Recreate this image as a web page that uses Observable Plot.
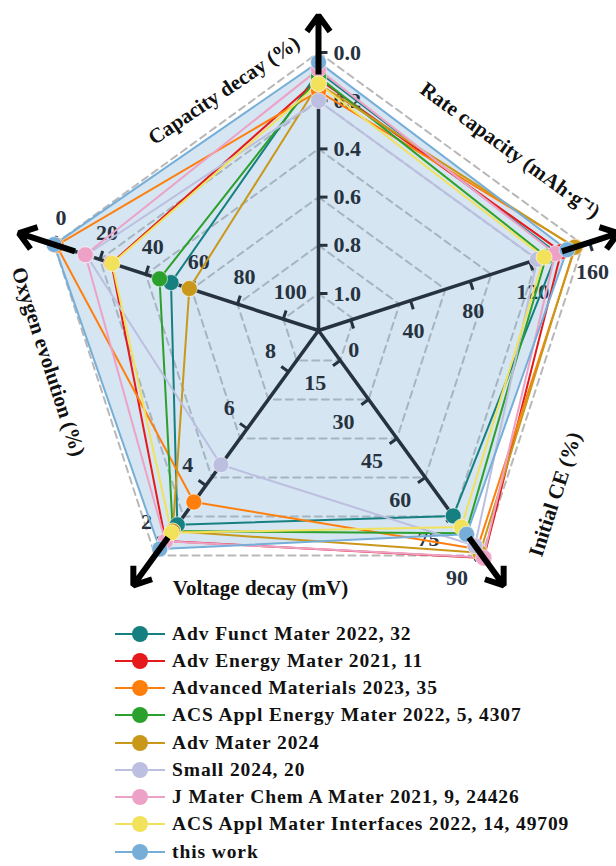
<!DOCTYPE html>
<html><head><meta charset="utf-8">
<script src="https://cdn.jsdelivr.net/npm/d3@7"></script>
<script src="https://cdn.jsdelivr.net/npm/@observablehq/plot@0.6"></script>
<style>
body{margin:0;background:#fff;font-family:"Liberation Serif","Times New Roman",serif;}
#legend{padding-top:5px;}
.row{display:flex;align-items:center;height:27.25px;margin-left:114px;font-weight:bold;font-size:19.5px;letter-spacing:0.9px;color:#111;white-space:nowrap;}
.row svg{margin-right:6px;flex:none}
</style></head><body><div id="chart"></div><div id="legend"></div>
<script>
// ---- data ----
const series = ["Adv Funct Mater 2022, 32","Adv Energy Mater 2021, 11","Advanced Materials 2023, 35","ACS Appl Energy Mater 2022, 5, 4307","Adv Mater 2024","Small 2024, 20","J Mater Chem A Mater 2021, 9, 24426","ACS Appl Mater Interfaces 2022, 14, 49709","this work"];
const colors = ["#15807f","#e41a1c","#ff7f0e","#2ca02c","#c9981a","#bcbfe0","#eda1c6","#f2e15b","#76aed8"];
const capacityDecay   = [0.08, 0.11, 0.16, 0.10, 0.13, 0.20, 0.07, 0.13, 0.04];
const rateCapacity    = [138, 141, 150.5, 131, 150, 125, 137, 129.5, 145];
const initialCE       = [74.8, 91, 87.5, 81.5, 89, 86.3, 90.8, 79.1, 81.9];
const voltageDecay    = [2.62, 2.05, 3.42, 2.4, 2.4, 4.73, 2.04, 2.34, 1.77];
const oxygenEvolution = [51, 25, 1, 46, 59, 14, 13.6, 25.3, 0];
const axisNames = ["Capacity decay (%)","Rate capacity (mAh·g⁻¹)","Initial CE (%)","Voltage decay (mV)","Oxygen evolution (%)"];
const capTicks  = [0.0, 0.2, 0.4, 0.6, 0.8, 1.0];
const rateTicks = [0, 40, 80, 120, 160];
const ceTicks   = [15, 30, 45, 60, 75, 90];
const voltTicks = [8, 6, 4, 2];
const oxyTicks  = [0, 20, 40, 60, 80, 100];

// ---- layout ----
const rad = d => d * Math.PI / 180;
const pol = (ang, r) => [r * Math.cos(rad(ang)), r * Math.sin(rad(ang))];
const axes = [
  {name: axisNames[0], values: capacityDecay, ticks: capTicks, angle: 90, scale: d3.scaleLinear([1, 0], [37, 278]), fmt: d3.format(".1f"), ldx: 15, ldy: 0, anchor: "start", tAng: 111.5, tR: 258, rot: -34},
  {name: axisNames[1], values: rateCapacity, ticks: rateTicks, angle: 18, scale: d3.scaleLinear([0, 160], [34, 285]), fmt: String, ldx: 3, ldy: 30, anchor: "middle", tAng: 43.2, tR: 263, rot: 36},
  {name: axisNames[2], values: initialCE, ticks: ceTicks, angle: -54, scale: d3.scaleLinear([15, 90], [37, 278]), fmt: String, ldx: -25, ldy: 23, anchor: "middle", tAng: -34.7, tR: 288, rot: -72},
  {name: axisNames[3], values: voltageDecay, ticks: voltTicks, angle: -126, scale: d3.scaleLinear([8, 2], [51, 262]), fmt: String, ldx: -18, ldy: -21, anchor: "middle", tAng: -102.7, tR: 264, rot: 0},
  {name: axisNames[4], values: oxygenEvolution, ticks: oxyTicks, angle: 162, scale: d3.scaleLinear([100, 0], [37, 278]), fmt: String, ldx: 7, ldy: -27, anchor: "middle", tAng: 186.6, tR: 272, rot: 72}
];

const rows = series.flatMap((s, si) => axes.map((a, ai) => {
  const [x, y] = pol(a.angle, a.scale(a.values[si]));
  return {series: s, si, axis: ai, x, y};
}));
const ringR = capTicks.map(t => axes[0].scale(t));
const rings = ringR.flatMap((r, k) => axes.map(a => { const [x, y] = pol(a.angle, r); return {ring: k, x, y}; }));
const tickRows = axes.flatMap((a, ai) => a.ticks.map(t => {
  const [x, y] = pol(a.angle, a.scale(t));
  const px = Math.sin(rad(a.angle)), py = -Math.cos(rad(a.angle));
  return {axis: ai, x, y, x2: x + 9 * px, y2: y + 9 * py, label: a.fmt(t)};
}));
const axisRows = axes.map(a => {
  const [x2, y2] = pol(a.angle, 276);
  const [ax1, ay1] = pol(a.angle, 256);
  const [ax2, ay2] = pol(a.angle, 315);
  const [tx, ty] = pol(a.tAng, a.tR);
  return {x2, y2, ax1, ay1, ax2, ay2, tx, ty, name: a.name, rot: a.rot};
});
const thisWork = rows.filter(d => d.si === series.length - 1);

const font = '"Liberation Serif","Times New Roman",serif';
const slate = "#27323f";

const chart = Plot.plot({
  width: 616, height: 615,
  marginTop: 0, marginRight: 0, marginBottom: 0, marginLeft: 0,
  x: {domain: [-318, 298], axis: null},
  y: {domain: [-285, 330], axis: null},
  color: {domain: series, range: colors},
  style: {fontFamily: font, background: "white", overflow: "visible"},
  marks: [
    Plot.line(rings, {x: "x", y: "y", z: "ring", curve: "linear-closed", stroke: "#b8b8b8", strokeWidth: 2, strokeDasharray: "7,5"}),
    Plot.line(thisWork, {x: "x", y: "y", curve: "linear-closed", fill: "#7bafd4", fillOpacity: 0.32, stroke: "none"}),
    Plot.link(axisRows, {x1: () => 0, y1: () => 0, x2: "x2", y2: "y2", stroke: slate, strokeWidth: 3.5}),
    Plot.link(tickRows, {x1: "x", y1: "y", x2: "x2", y2: "y2", stroke: slate, strokeWidth: 3}),
    ...axes.map((a, ai) => Plot.text(tickRows.filter(d => d.axis === ai), {x: "x", y: "y", text: "label", dx: a.ldx, dy: a.ldy, textAnchor: a.anchor, fontSize: 22, fontWeight: "bold", fill: slate, fontFamily: font})),
    Plot.line(rows, {x: "x", y: "y", z: "series", stroke: "series", curve: "linear-closed", strokeWidth: 2}),
    Plot.dot(rows, {x: "x", y: "y", fill: "series", r: 8, stroke: "white", strokeWidth: 0.8, strokeOpacity: 0.7}),
    Plot.arrow(axisRows, {x1: "ax1", y1: "ay1", x2: "ax2", y2: "ay2", stroke: "black", strokeWidth: 6, headLength: 5.5, headAngle: 72, strokeLinejoin: "miter", strokeLinecap: "butt"}),
    Plot.text(axisRows, {x: "tx", y: "ty", text: "name", rotate: "rot", fontSize: 21, fontWeight: "bold", fill: "#111", fontFamily: font})
  ]
});
document.getElementById("chart").append(chart);

// legend
const leg = document.getElementById("legend");
series.forEach((s, i) => {
  const row = document.createElement("div");
  row.className = "row";
  row.innerHTML = `<svg width="52" height="20"><line x1="1" x2="51" y1="10" y2="10" stroke="${colors[i]}" stroke-width="2"/><circle cx="26" cy="10" r="8" fill="${colors[i]}"/></svg><span>${s}</span>`;
  leg.append(row);
});
</script>
</body></html>
